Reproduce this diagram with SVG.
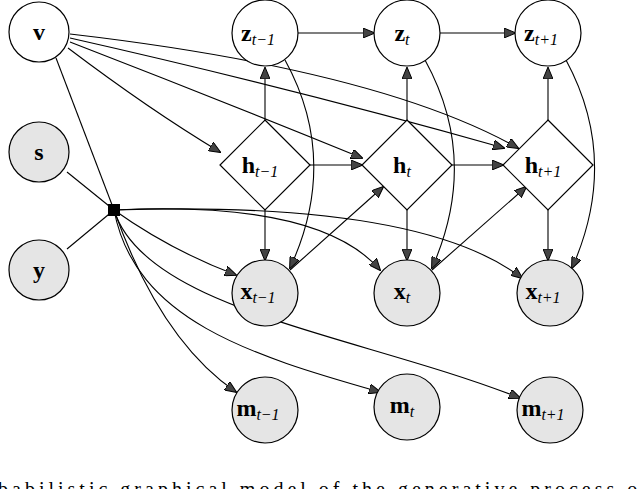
<svg xmlns="http://www.w3.org/2000/svg" width="640" height="489" viewBox="0 0 640 489">
<defs>
<marker id="a" viewBox="0 0 12 10" refX="11" refY="5" markerWidth="12" markerHeight="10" markerUnits="userSpaceOnUse" orient="auto">
<path d="M0,0 L12,5 L0,10 Z" fill="#444" stroke="#000" stroke-width="1"/>
</marker>
</defs>
<style>
.n{fill:#fff;stroke:#000;stroke-width:1.2}
.g{fill:#e5e5e5;stroke:#000;stroke-width:1.2}
.e{fill:none;stroke:#000;stroke-width:1.1}
.ar{marker-end:url(#a)}
text{font-family:"Liberation Serif","DejaVu Serif",serif;font-weight:bold;font-size:24px;text-anchor:middle}
.sub{font-weight:normal;font-style:italic;font-size:16px}
</style>
<rect width="640" height="489" fill="#fff"/>
<g id="connectors">
<line class="e" x1="56" y1="58" x2="114" y2="210"/>
<line class="e" x1="67" y1="172" x2="114" y2="210"/>
<line class="e" x1="67" y1="249" x2="114" y2="210"/>
<path class="e ar" d="M68,48 Q150,110 220,152"/>
<path class="e ar" d="M70,42 Q220,100 362,158"/>
<path class="e ar" d="M70,38 Q300,90 504,148"/>
<path class="e ar" d="M70,34 Q380,70 518,148"/>
<path class="e ar" d="M114,210 Q170,250 236,275"/>
<path class="e ar" d="M114,210 Q320,200 380,270"/>
<path class="e ar" d="M114,210 Q420,200 522,278"/>
<path class="e ar" d="M114,210 Q160,340 236,392"/>
<path class="e ar" d="M114,210 C135,320 250,355 380,392"/>
<path class="e ar" d="M114,210 C145,310 360,335 520,398"/>
<line class="e ar" x1="298" y1="33" x2="374" y2="33"/>
<line class="e ar" x1="440" y1="33" x2="515" y2="33"/>
<line class="e ar" x1="265" y1="120" x2="265" y2="68"/>
<line class="e ar" x1="407" y1="120" x2="407" y2="68"/>
<line class="e ar" x1="548" y1="120" x2="548" y2="68"/>
<line class="e ar" x1="310" y1="165" x2="362" y2="165"/>
<line class="e ar" x1="452" y1="165" x2="503" y2="165"/>
<line class="e ar" x1="265" y1="210" x2="265" y2="260"/>
<line class="e ar" x1="407" y1="210" x2="407" y2="260"/>
<line class="e ar" x1="548" y1="210" x2="548" y2="260"/>
<path class="e ar" d="M285,60 Q340,160 290,268"/>
<path class="e ar" d="M425,60 Q480,160 432,268"/>
<path class="e ar" d="M566,60 Q620,160 572,268"/>
<line class="e ar" x1="290" y1="270" x2="383" y2="187"/>
<line class="e ar" x1="432" y1="270" x2="526" y2="187"/>
</g>
<g id="node-v"><circle class="n" cx="39" cy="32" r="30"/><text x="39" y="40">v</text></g>
<g id="node-s"><circle class="g" cx="39" cy="152" r="30"/><text x="39" y="160">s</text></g>
<g id="node-y"><circle class="g" cx="39" cy="270" r="30"/><text x="39" y="278">y</text></g>
<g id="factor"><rect x="108" y="204" width="12" height="12" fill="#000"/></g>
<g id="node-z1"><circle class="n" cx="265" cy="33" r="33"/><text x="258" y="41">z<tspan class="sub" dy="4">t−1</tspan></text></g>
<g id="node-z2"><circle class="n" cx="407" cy="33" r="33"/><text x="402" y="41">z<tspan class="sub" dy="4">t</tspan></text></g>
<g id="node-z3"><circle class="n" cx="548" cy="33" r="33"/><text x="541" y="41">z<tspan class="sub" dy="4">t+1</tspan></text></g>
<g id="node-h1"><polygon class="n" points="265,120 310,165 265,210 220,165"/><text x="260" y="173">h<tspan class="sub" dy="4">t−1</tspan></text></g>
<g id="node-h2"><polygon class="n" points="407,120 452,165 407,210 362,165"/><text x="402" y="173">h<tspan class="sub" dy="4">t</tspan></text></g>
<g id="node-h3"><polygon class="n" points="548,120 593,165 548,210 503,165"/><text x="543" y="173">h<tspan class="sub" dy="4">t+1</tspan></text></g>
<g id="node-x1"><circle class="g" cx="265" cy="293" r="33"/><text x="258" y="299">x<tspan class="sub" dy="4">t−1</tspan></text></g>
<g id="node-x2"><circle class="g" cx="407" cy="293" r="33"/><text x="402" y="299">x<tspan class="sub" dy="4">t</tspan></text></g>
<g id="node-x3"><circle class="g" cx="550" cy="293" r="33"/><text x="543" y="299">x<tspan class="sub" dy="4">t+1</tspan></text></g>
<g id="node-m1"><circle class="g" cx="265" cy="410" r="33"/><text x="258" y="416">m<tspan class="sub" dy="4">t−1</tspan></text></g>
<g id="node-m2"><circle class="g" cx="407" cy="407" r="33"/><text x="402" y="413">m<tspan class="sub" dy="4">t</tspan></text></g>
<g id="node-m3"><circle class="g" cx="550" cy="410" r="33"/><text x="543" y="416">m<tspan class="sub" dy="4">t+1</tspan></text></g>
<text x="-2" y="496" textLength="650" style="font-weight:normal;font-size:20px;text-anchor:start">babilistic graphical model of the generative process of</text>
</svg>
